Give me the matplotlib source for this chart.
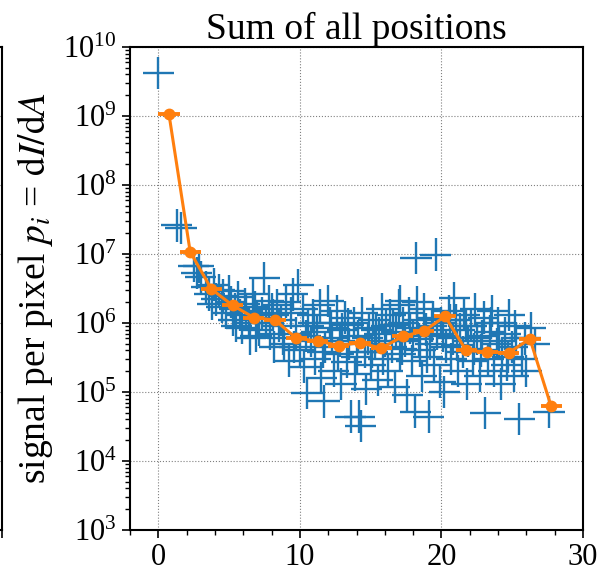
import numpy as np
import matplotlib
matplotlib.use("Agg")
import matplotlib.pyplot as plt
from matplotlib.ticker import MultipleLocator, LogLocator, NullFormatter

plt.rcParams['font.family'] = 'serif'
plt.rcParams['font.serif'] = ['Liberation Serif', 'DejaVu Serif']
plt.rcParams['mathtext.fontset'] = 'stix'

# single positions (blue crosses)
pos_x = [0.0, 1.3, 1.6, 2.5, 2.85, 2.7, 3.0,
         3.4, 3.6, 3.9, 4.1, 4.3, 4.5, 4.6, 4.8, 5.0, 5.1, 5.3, 5.4, 5.6, 5.8, 5.9,
         6.1, 6.2, 6.4, 6.5, 6.7, 6.8, 7.0, 7.1, 7.3, 7.5, 7.6, 7.8, 7.9, 8.1, 8.2,
         8.4, 8.5, 8.7, 8.9, 9.0, 9.2, 9.4, 9.5, 9.7,
         9.9, 10.0, 10.2, 10.3, 10.5, 10.6, 10.8, 10.9, 11.1, 11.2, 11.4, 11.5, 11.7,
         11.8, 12.0, 12.1, 12.3, 12.4, 12.6, 12.7, 12.9, 13.0, 13.2, 13.3, 13.5, 13.6,
         13.8, 13.9, 14.1, 14.2, 14.3, 14.4, 14.6, 14.7, 14.9, 15.0, 15.2, 15.3, 15.5,
         15.6, 15.8, 15.9,
         16.1, 16.2, 16.4, 16.5, 16.7, 16.8, 17.0, 17.1, 17.1, 17.3, 17.4, 17.6, 17.7,
         17.9, 18.0, 18.2, 18.16, 18.3, 18.3, 18.5, 18.6, 18.8, 18.9, 19.1, 19.2, 19.4,
         19.6, 19.5, 19.7, 19.9, 20.0, 20.2, 20.3, 20.5, 20.9, 20.7, 20.8,
         21.0, 21.2, 21.3, 21.5, 21.6, 21.8, 21.9, 22.1, 22.2, 22.4, 22.5, 22.7, 22.8,
         23.0, 23.1, 23.3, 23.4, 23.6, 23.7, 23.9, 24.0, 24.2, 24.3, 24.5, 24.6, 24.8,
         25.0, 25.1, 25.3, 25.5, 25.7, 26.3, 26.6, 27.6,
         9.6, 10.4, 11.0, 11.6, 12.2, 12.8, 13.4, 14.0, 14.8, 15.4, 15.1,
         16.0, 16.6, 17.2, 17.8, 18.4, 19.0, 19.3, 20.1, 20.6,
         21.1, 21.7, 22.3, 22.9, 23.5, 24.1, 24.7, 25.2, 25.9, 26.0,
         3.8, 5.5, 6.9, 8.0, 8.8]
pos_y = [4.2e9, 2.6e7, 2.4e7, 6.8e6, 6.6e6, 5.3e6, 4.6e6,
         3.3e6, 2.6e6, 3.6e6, 2.2e6, 3.0e6, 1.7e6, 2.5e6, 1.4e6, 2.9e6, 2.0e6, 1.1e6,
         1.6e6, 2.4e6, 1.3e6, 8.5e5,
         1.9e6, 1.5e6, 1.0e6, 6.0e5, 2.6e6, 1.7e6, 1.2e6, 8.0e5, 1.4e6, 4.5e6, 1.0e6,
         2.1e6, 7.0e5, 1.3e6, 4.5e5,
         1.8e6, 9.0e5, 1.1e6, 5.0e5, 2.0e6, 2.8e5, 1.4e6, 2.6e6, 7.0e5,
         3.5e6, 4.0e5, 1.6e6, 2.3e5, 9.6e4, 9.0e5, 5.5e5, 1.3e6, 3.0e5, 7.5e5, 1.8e6,
         1.6e5, 7.3e4,
         4.5e5, 2.1e6, 1.0e6, 6.0e5, 2.0e5, 1.5e6, 3.5e5, 1.3e5, 8.0e5, 1.2e6, 2.7e5,
         5.0e5, 4.4e4,
         1.0e6, 1.8e5, 6.5e5, 4.4e4, 3.2e4, 1.4e6, 3.8e5, 1.1e5, 8.5e5, 2.5e5, 1.1e6,
         5.0e5, 1.5e5,
         7.0e5, 1.6e6, 3.0e5,
         9.0e5, 2.0e5, 1.3e6, 4.5e5, 1.2e5, 7.5e5, 1.8e6, 3.5e5, 2.1e6, 1.0e6, 5.5e5,
         9.0e4, 1.4e6,
         2.8e5, 6.5e5, 8.7e6, 5.1e4, 1.1e6, 2.0e6, 4.0e5, 1.7e5, 1.6e6, 8.0e5, 4.4e4,
         5.0e5, 1.2e6,
         9.8e6, 2.5e5, 7.0e5, 1.4e5, 1.0e6, 1.0e5, 4.5e5, 1.5e6, 2.3e6, 3.0e5, 6.0e5,
         1.1e6, 2.0e5, 8.0e5, 3.8e5, 1.3e6, 1.3e5, 5.5e5, 9.0e5, 2.8e5, 1.6e6, 6.0e5,
         1.7e5, 4.0e5,
         1.2e6, 5.0e4, 3.0e5, 7.5e5, 1.5e6, 2.0e5, 5.0e5, 1.0e6, 1.3e5, 3.5e5, 7.0e5,
         2.5e5, 1.3e6,
         4.5e5, 1.7e5, 6.0e5, 4.1e4, 3.0e5, 8.5e5, 5.0e5, 5.1e4,
         4.5e5, 6.5e5, 1.0e6, 3.8e5, 8.5e5, 5.5e5, 9.5e5, 3.2e5, 6.0e5, 8.0e5, 3.8e5,
         5.5e5, 9.5e5, 4.2e5, 8.5e5, 5.8e5, 3.2e5, 9.0e5, 6.5e5, 1.1e6,
         4.8e5, 9.0e5, 4.2e5, 6.5e5, 1.0e6, 5.5e5, 3.2e5, 9.0e5, 6.0e5, 2.0e5,
         1.9e6, 9.0e5, 6.5e5, 1.6e6, 6.0e5]

# binned sum (orange)
bin_x = [0.75, 2.25, 3.75, 5.25, 6.75, 8.25, 9.75, 11.25, 12.75, 14.25, 15.75,
         17.25, 18.75, 20.25, 21.75, 23.25, 24.75, 26.25, 27.75]
bin_y = [1.07e9, 1.08e7, 3.1e6, 1.8e6, 1.2e6, 1.1e6, 6.0e5, 5.5e5, 4.7e5, 5.2e5,
         4.3e5, 6.4e5, 7.6e5, 1.25e6, 4.0e5, 3.8e5, 3.7e5, 5.9e5, 6.2e4]

pos_x = np.array(pos_x)
pos_y = np.array(pos_y)
f = 10 ** 0.235
yerr = [pos_y - pos_y / f, pos_y * f - pos_y]

fig = plt.figure(figsize=(5.98, 5.80), dpi=100)
W, H = 598.0, 580.0
ax = fig.add_axes([130 / W, 1 - 530 / H, 453 / W, 483 / H])

ax.errorbar(pos_x, pos_y, xerr=1.1, yerr=yerr, fmt='none', ecolor='C0', elinewidth=1.7)
ax.errorbar(bin_x, bin_y, xerr=0.75, fmt='o-', color='C1', lw=2.2, ms=7.5, elinewidth=2.8)

ax.set_yscale('log')
ax.set_ylim(1e3, 1e10)
ax.set_xlim(-2, 30)
ax.xaxis.set_major_locator(MultipleLocator(10))
ax.xaxis.set_minor_locator(MultipleLocator(2))
ax.yaxis.set_major_locator(LogLocator(base=10, numticks=20))
ax.yaxis.set_minor_locator(LogLocator(base=10, subs=np.arange(2, 10), numticks=20))
ax.yaxis.set_minor_formatter(NullFormatter())
ax.grid(True, which='major', ls=':', color='gray', lw=0.8)
ax.tick_params(labelsize=22, width=1.2, length=6)
ax.tick_params(which='minor', width=1, length=3.5)
for s in ax.spines.values():
    s.set_linewidth(1.5)
ax.set_title("Sum of all positions", fontsize=27, pad=5)
ax.set_ylabel(r"signal per pixel $p_i$ = $\mathrm{d}I/\mathrm{d}A$", fontsize=27, labelpad=6)
ax.xaxis.label.set_visible(False)

# neighbouring panel, only its right edge shows
ax2 = fig.add_axes([-0.5, 1 - 530 / H, 0.5 + 2 / W, 483 / H])
ax2.set_yscale('log')
ax2.set_ylim(1e3, 1e10)
ax2.set_xlim(-2, 30)
ax2.xaxis.set_major_locator(MultipleLocator(10))
ax2.yaxis.set_minor_formatter(NullFormatter())
ax2.grid(True, which='major', ls=':', color='gray', lw=0.8)
ax2.tick_params(which='both', labelbottom=False, labelleft=False)
ax2.tick_params(width=1.2, length=6)
ax2.xaxis.label.set_visible(False)
ax2.yaxis.label.set_visible(False)
for s in ax2.spines.values():
    s.set_linewidth(1.5)

fig.savefig("out.png", dpi=100)
